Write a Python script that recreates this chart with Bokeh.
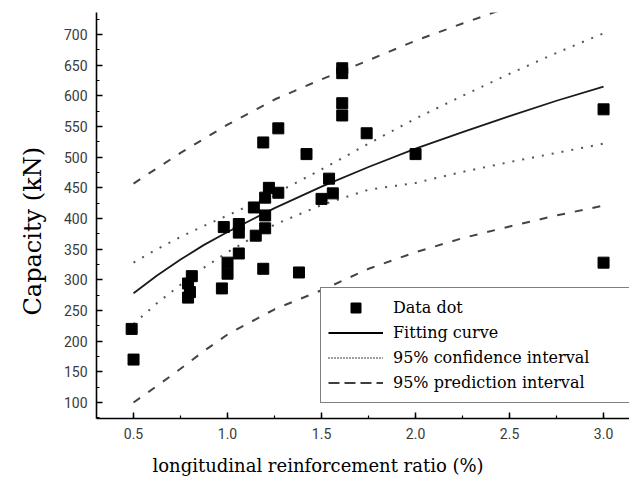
from bokeh.plotting import figure
from bokeh.models import (Range1d, SingleIntervalTicker, Legend, LegendItem, Title,
                          NumeralTickFormatter, ColumnDataSource)
from bokeh.embed import file_html
from bokeh.resources import INLINE

# ---- data ----
ratio = [0.49, 0.50, 0.81, 0.79, 0.80, 0.79, 0.97, 1.00, 1.00, 1.06,
         0.98, 1.06, 1.06, 1.15, 1.20, 1.20, 1.14, 1.20, 1.22, 1.27,
         1.19, 1.38, 1.19, 1.27, 1.42, 1.50, 1.56, 1.54, 1.61, 1.61,
         1.61, 1.61, 1.74, 2.00, 3.00, 3.00]
capacity = [220, 170, 306, 294, 280, 271, 286, 310, 328, 343,
            386, 391, 377, 372, 384, 405, 418, 434, 450, 442,
            318, 312, 524, 547, 505, 432, 441, 465, 645, 637,
            588, 568, 539, 505, 578, 328]

curve_x = [0.5, 0.625, 0.75, 0.875, 1.0, 1.25, 1.5, 1.75, 2.0, 2.25, 2.5, 2.75, 3.0]
fit_y = [278, 307, 333, 357, 378, 417, 452, 484, 514, 541, 567, 592, 615]
conf_upper = [328, 350, 370, 388, 405, 440, 480, 522, 563, 600, 636, 670, 702]
conf_lower = [228, 262, 292, 320, 345, 390, 422, 447, 458, 476, 492, 507, 522]
pred_upper = [457, 482, 507, 530, 553, 594, 627, 658, 690, 718, 745, 772, 798]
pred_lower = [100, 127, 155, 184, 211, 252, 283, 318, 345, 368, 387, 405, 421]

legend_labels = ["Data dot", "Fitting curve", "95% confidence interval", "95% prediction interval"]
x_label = "longitudinal reinforcement ratio (%)"
y_label = "Capacity (kN)"

SERIF = "DejaVu Serif"

p = figure(width=629, height=486, output_backend="svg", toolbar_location=None,
           x_range=Range1d(0.303, 3.138), y_range=Range1d(73.9, 735.9),
           min_border_left=96, min_border_right=0, min_border_top=12, min_border_bottom=68)
p.outline_line_color = None
p.xgrid.visible = False
p.ygrid.visible = False
p.background_fill_color = "white"
p.border_fill_color = "white"

for ax in (p.xaxis[0], p.yaxis[0]):
    ax.axis_line_width = 1.6
    ax.axis_line_color = "black"
    ax.major_tick_in = 6
    ax.major_tick_out = 0
    ax.minor_tick_in = 3
    ax.minor_tick_out = 0
    ax.major_tick_line_width = 1.5
    ax.minor_tick_line_width = 1.2
    ax.major_tick_line_color = "black"
    ax.minor_tick_line_color = "black"
    ax.major_label_text_font = "Roboto"
    ax.major_label_text_font_size = "14px"
    ax.major_label_text_color = "#3a3a3a"
    ax.major_label_standoff = 9

p.xaxis[0].ticker = SingleIntervalTicker(interval=0.5, num_minor_ticks=2)
p.yaxis[0].ticker = SingleIntervalTicker(interval=50, num_minor_ticks=2)
p.xaxis[0].formatter = NumeralTickFormatter(format="0.0")

src = ColumnDataSource(dict(x=curve_x, fit=fit_y, cu=conf_upper, cl=conf_lower,
                            pu=pred_upper, pl=pred_lower))

p.line("x", "pu", source=src, line_color="#444444", line_width=2, line_dash="8 10")
p.line("x", "pl", source=src, line_color="#444444", line_width=2, line_dash="8 10")
p.line("x", "cu", source=src, line_color="#555555", line_width=2, line_dash="2 8")
p.line("x", "cl", source=src, line_color="#555555", line_width=2, line_dash="2 8")
p.line("x", "fit", source=src, line_color="#1a1a1a", line_width=1.8)

dots = p.scatter(ratio, capacity, marker="square", size=11, fill_color="black",
                 line_color="black")

# legend-only renderers with the legend's own line styles (no visible data)
nan = float("nan")
dummy = ColumnDataSource(dict(x=[nan, nan], y=[nan, nan]))
lg_fit = p.line("x", "y", source=dummy, line_color="black", line_width=2)
lg_conf = p.line("x", "y", source=dummy, line_color="black", line_width=1.5, line_dash="1 2")
lg_pred = p.line("x", "y", source=dummy, line_color="black", line_width=1.5, line_dash="11 5")

legend = Legend(items=[LegendItem(label=legend_labels[0], renderers=[dots]),
                       LegendItem(label=legend_labels[1], renderers=[lg_fit]),
                       LegendItem(label=legend_labels[2], renderers=[lg_conf]),
                       LegendItem(label=legend_labels[3], renderers=[lg_pred])],
                location=(224, 15), orientation="vertical",
                label_text_font=SERIF, label_text_font_size="16px",
                label_text_color="black",
                glyph_width=55, glyph_height=25, label_height=25, label_width=230,
                label_standoff=10, spacing=0, padding=7, margin=0,
                border_line_color="black", border_line_width=1.5,
                background_fill_color="white", background_fill_alpha=1.0)
p.add_layout(legend, "center")

p.add_layout(Title(text=x_label, align="left", offset=56, standoff=22,
                   vertical_align="bottom",
                   text_font=SERIF, text_font_size="18px",
                   text_font_style="normal", text_color="black"), "below")
p.add_layout(Title(text=y_label, align="left", offset=103, standoff=28,
                   vertical_align="bottom",
                   text_font=SERIF, text_font_size="24px",
                   text_font_style="normal", text_color="black"), "left")

open("out.html", "w").write(file_html(p, INLINE))
